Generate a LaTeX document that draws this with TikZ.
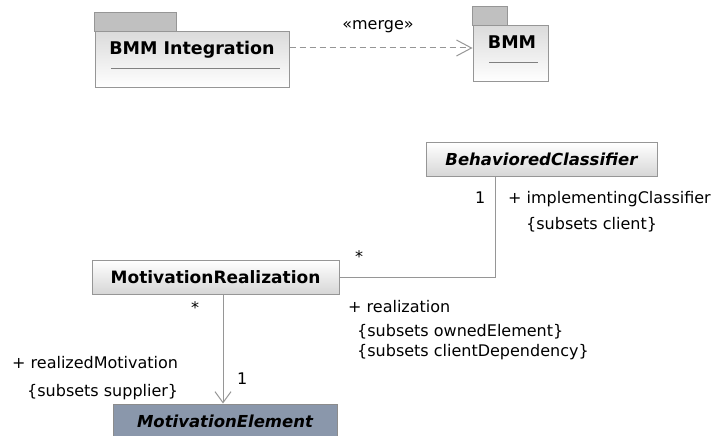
\documentclass[tikz,border=0pt]{standalone}
\usepackage{fontspec}
\setmainfont{DejaVu Sans}
\usetikzlibrary{positioning,arrows.meta}
\definecolor{edge}{HTML}{969696}
\definecolor{tabgray}{HTML}{C0C0C0}
\definecolor{abstr}{HTML}{8A97AB}

\begin{document}
\begin{tikzpicture}[x=1pt, y=-1pt, font=\fontsize{16}{19}\selectfont,
    ln/.style={draw=edge, line width=1pt},
    cls/.style={ln, top color=white, bottom color=black!16, minimum height=34pt, inner sep=0pt,
                font=\fontsize{17}{20}\selectfont\bfseries},
    pkg/.style={ln, top color=black!14, bottom color=white, inner sep=0pt, minimum height=56pt},
    tab/.style={ln, fill=tabgray},
    pname/.style={font=\fontsize{17.5}{20}\selectfont\bfseries},
    lbl/.style={anchor=base west, inner sep=0pt},
    open/.style={->, >={Straight Barb[length=#1, width=16pt]}}]
  \useasboundingbox (0,0) rectangle (715,436);

  % packages
  \node[pkg, minimum width=194pt] (bi) at (192,60) {};
  \draw[tab] (bi.north west) rectangle ++(82,-19);
  \node[pname] (bin) at (192,50) {BMM Integration};
  \draw[ln, draw=black!50] (111,69) -- (280,69);

  \node[pkg, minimum width=75pt] (bmm) at (510.5,54) {};
  \draw[tab] (bmm.north west) rectangle ++(35,-19);
  \node[pname] (bmmn) at (512,42) {BMM};
  \draw[ln, draw=black!50] (489,63) -- (538,63);

  \coordinate (m) at (0,48);
  \draw[ln, open=15pt, dash pattern=on 6pt off 4pt] (bi.east |- m) -- (bmm.west |- m);
  \node (mg) at (378,27) {«merge»};

  % classes
  \node[cls, minimum width=231pt, font=\fontsize{16.5}{20}\selectfont\bfseries\itshape] (bc) at (541.5,159.5) {BehavioredClassifier};
  \node[cls, minimum width=247pt] (mr) at (215.5,277) {MotivationRealization};
  \node[cls, minimum width=224pt, fill=abstr, top color=abstr, bottom color=abstr, draw=black!45,
        font=\fontsize{16.5}{20}\selectfont\bfseries\itshape] (me) at (225,421) {MotivationElement};

  \coordinate (j) at (495,0);
  \draw[ln] (bc.south -| j) |- (mr.east);
  \draw[ln, open=11pt] (mr.south -| 223,0) -- (me.north -| 223,0);

  % ends
  \node[lbl] (m1) at (475,203) {1};
  \node[lbl] (r1) at (508,203) {+ implementingClassifier};
  \node[lbl] (r2) at (526,229) {\{subsets client\}};
  \node[lbl] (m2) at (355,262) {*};
  \node[lbl] (r3) at (348,312) {+ realization};
  \node[lbl] (r4) at (357,336) {\{subsets ownedElement\}};
  \node[lbl] (r5) at (357,356) {\{subsets clientDependency\}};
  \node[lbl] (m3) at (191,313) {*};
  \node[lbl] (r6) at (12,368) {+ realizedMotivation};
  \node[lbl] (r7) at (27,396) {\{subsets supplier\}};
  \node[lbl] (m4) at (237,384) {1};
\end{tikzpicture}
\end{document}
